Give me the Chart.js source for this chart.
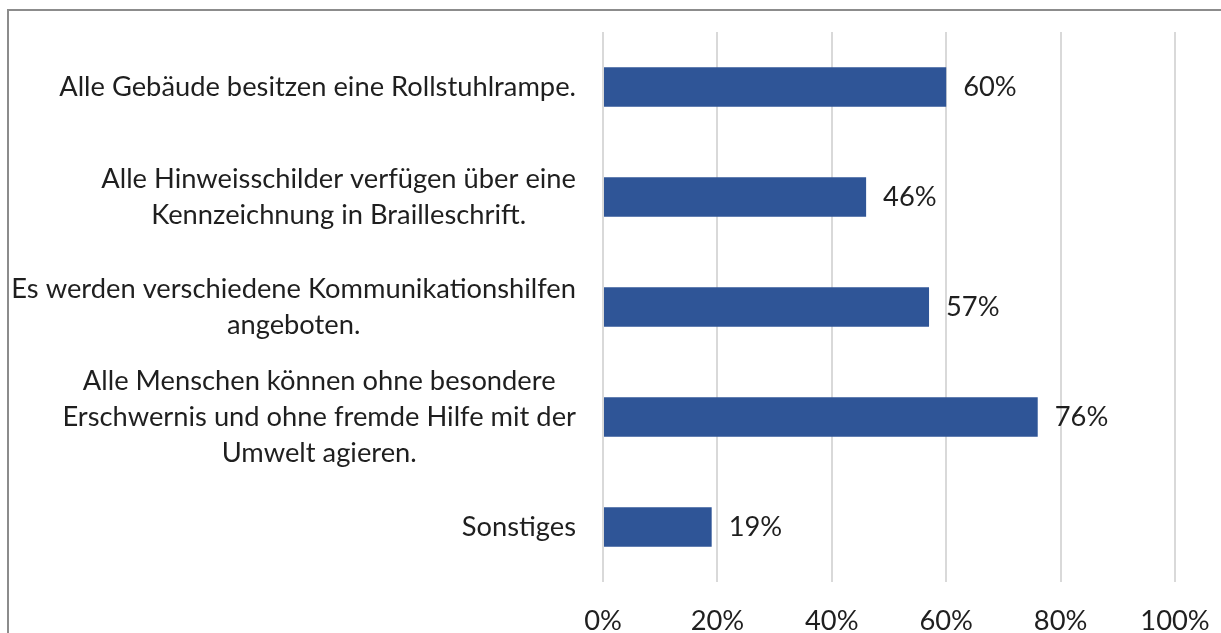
<!DOCTYPE html>
<html>
<head>
<meta charset="utf-8">
<script src="https://cdn.jsdelivr.net/npm/chart.js@4.4.1/dist/chart.umd.min.js"></script>
<style>
  html, body { margin: 0; padding: 0; background: #ffffff; overflow: hidden; }
  #wrap { position: relative; width: 1221px; height: 633px; }
  #frame { position: absolute; left: 7px; top: 9px; width: 1300px; height: 700px;
           border-left: 2px solid #8c8c8c; border-top: 2px solid #8c8c8c; pointer-events: none; }
  canvas { position: absolute; left: 0; top: 0; }
</style>
</head>
<body>
<div id="wrap">
  <canvas id="c" width="1221" height="633"></canvas>
  <div id="frame"></div>
</div>
<script>
const categories = [
  ["Alle Gebäude besitzen eine Rollstuhlrampe."],
  ["Alle Hinweisschilder verfügen über eine", "Kennzeichnung in Brailleschrift."],
  ["Es werden verschiedene Kommunikationshilfen", "angeboten."],
  ["Alle Menschen können ohne besondere", "Erschwernis und ohne fremde Hilfe mit der", "Umwelt agieren."],
  ["Sonstiges"]
];
const values = [60, 46, 57, 76, 19];
const xTicks = [0, 20, 40, 60, 80, 100];

const FONT_FAMILY = "Lato, 'Open Sans', sans-serif";
const FONT_SIZE = 27.3;
const TEXT_COLOR = "#1f1f1f";
const BAR_COLOR = "#2f5597";

const yLabelPlugin = {
  id: "yLabels",
  afterDraw(chart) {
    const ctx = chart.ctx;
    const yScale = chart.scales.y;
    const rightEdge = chart.chartArea.left - 27;
    const lineH = 36;
    ctx.save();
    ctx.font = FONT_SIZE + "px " + FONT_FAMILY;
    ctx.fillStyle = TEXT_COLOR;
    ctx.textAlign = "center";
    ctx.textBaseline = "middle";
    categories.forEach((lines, i) => {
      const yc = yScale.getPixelForTick(i);
      const maxW = Math.max(...lines.map(l => ctx.measureText(l).width));
      const cx = rightEdge - maxW / 2;
      lines.forEach((l, j) => {
        ctx.fillText(l, cx, yc + (j - (lines.length - 1) / 2) * lineH);
      });
    });
    ctx.restore();
  }
};

const dataLabelPlugin = {
  id: "dataLabels",
  afterDatasetsDraw(chart) {
    const ctx = chart.ctx;
    const meta = chart.getDatasetMeta(0);
    ctx.save();
    ctx.font = FONT_SIZE + "px " + FONT_FAMILY;
    ctx.fillStyle = TEXT_COLOR;
    ctx.textAlign = "left";
    ctx.textBaseline = "middle";
    meta.data.forEach((bar, i) => {
      ctx.fillText(Math.round(values[i]) + "%", bar.x + 17, bar.y);
    });
    ctx.restore();
  }
};

new Chart(document.getElementById("c"), {
  type: "bar",
  data: {
    labels: categories.map(c => c.join(" ")),
    datasets: [{
      data: values,
      backgroundColor: BAR_COLOR,
      borderWidth: 0,
      categoryPercentage: 1.0,
      barPercentage: 0.36
    }]
  },
  options: {
    indexAxis: "y",
    responsive: false,
    animation: false,
    layout: { padding: { top: 32, right: 46, bottom: 0, left: 0 } },
    plugins: { legend: { display: false }, tooltip: { enabled: false } },
    scales: {
      x: {
        min: 0, max: 100,
        afterBuildTicks(scale) { scale.ticks = xTicks.map(v => ({ value: v })); },
        ticks: {
          callback: v => v + "%",
          font: { family: FONT_FAMILY, size: FONT_SIZE },
          color: TEXT_COLOR,
          padding: 23,
          maxRotation: 0
        },
        grid: { color: "#d9d9d9", lineWidth: 2, drawTicks: false },
        border: { display: false },
        afterFit(scale) { scale.height = 51; scale.paddingRight = 0; scale.paddingLeft = 0; }
      },
      y: {
        ticks: { display: false },
        grid: { display: false },
        border: { display: false },
        afterFit(scale) { scale.width = 603; }
      }
    }
  },
  plugins: [yLabelPlugin, dataLabelPlugin]
});
</script>
</body>
</html>
